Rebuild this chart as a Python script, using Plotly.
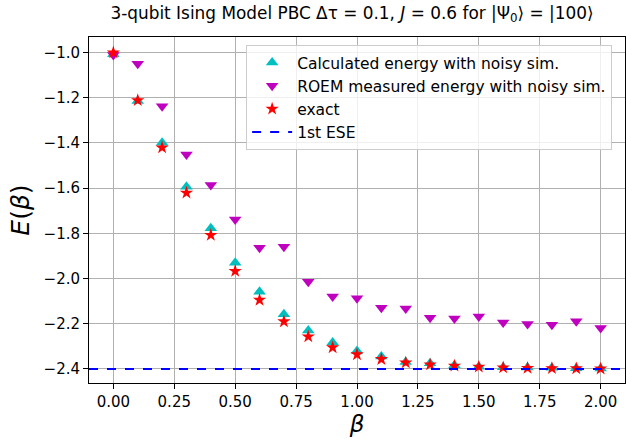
import plotly.graph_objects as go

beta = [0.0, 0.1, 0.2, 0.3, 0.4, 0.5, 0.6, 0.7, 0.8, 0.9, 1.0,
        1.1, 1.2, 1.3, 1.4, 1.5, 1.6, 1.7, 1.8, 1.9, 2.0]
calc_energy = [-1.008, -1.215, -1.400, -1.594, -1.778, -1.930, -2.058, -2.158, -2.230, -2.283, -2.320,
               -2.345, -2.369, -2.375, -2.383, -2.390, -2.392, -2.394, -2.395, -2.397, -2.398]
roem_energy = [-1.012, -1.050, -1.238, -1.452, -1.587, -1.739, -1.864, -1.860, -2.014, -2.080, -2.087,
               -2.129, -2.133, -2.174, -2.177, -2.168, -2.195, -2.201, -2.204, -2.189, -2.219]
exact_energy = [-1.001, -1.212, -1.421, -1.621, -1.808, -1.967, -2.095, -2.190, -2.257, -2.305, -2.336,
                -2.357, -2.372, -2.381, -2.386, -2.391, -2.394, -2.396, -2.397, -2.398, -2.399]
ese_value = -2.4

x_range = [-0.1, 2.1]
y_range = [-2.462, -0.932]
x_ticks = [0.0, 0.25, 0.5, 0.75, 1.0, 1.25, 1.5, 1.75, 2.0]
y_ticks = [-2.4, -2.2, -2.0, -1.8, -1.6, -1.4, -1.2, -1.0]

FONT = "DejaVu Sans"

fig = go.Figure()
fig.add_trace(go.Scatter(x=beta, y=calc_energy, mode="markers",
                         name="Calculated energy with noisy sim.",
                         marker=dict(symbol="triangle-up", size=11, color="#00bfbf")))
fig.add_trace(go.Scatter(x=beta, y=roem_energy, mode="markers",
                         name="ROEM measured energy with noisy sim.",
                         marker=dict(symbol="triangle-down", size=11, color="#bf00bf")))
fig.add_trace(go.Scatter(x=beta, y=exact_energy, mode="markers",
                         name="exact",
                         marker=dict(symbol="star", size=10, color="#ff0000")))
fig.add_trace(go.Scatter(x=x_range, y=[ese_value, ese_value], mode="lines",
                         name="1st ESE",
                         line=dict(color="#0000ff", dash="dash", width=2)))

fig.update_layout(
    width=626, height=439,
    margin=dict(l=89, r=1, t=37, b=56),
    paper_bgcolor="white", plot_bgcolor="white",
    font=dict(family=FONT, size=15, color="black"),
    title=dict(text="3-qubit Ising Model PBC Δτ = 0.1, <i>J</i> = 0.6 for |Ψ<sub>0</sub>⟩ = |100⟩",
               x=352 / 626, xanchor="center", xref="container", yref="container",
               y=1 - 7 / 439, yanchor="top",
               font=dict(family=FONT, size=16.9, color="black")),
    legend=dict(x=0.976, xanchor="right", y=0.977, yanchor="top",
                bgcolor="rgba(255,255,255,0.8)", bordercolor="#cccccc", borderwidth=1,
                itemwidth=40,
                font=dict(family=FONT, size=15.5, color="black")),
    showlegend=True,
)
fig.update_xaxes(range=x_range, tickvals=x_ticks, tickformat=".2f",
                 showgrid=True, gridcolor="#b0b0b0", gridwidth=1,
                 showline=True, linecolor="black", linewidth=1, mirror=True,
                 ticks="outside", ticklen=5, tickcolor="black", zeroline=False,
                 tickfont=dict(family=FONT, size=15),
                 title=dict(text="<i>β</i>", font=dict(family=FONT, size=23), standoff=2))
fig.update_yaxes(range=y_range, tickvals=y_ticks, tickformat=".1f",
                 showgrid=True, gridcolor="#b0b0b0", gridwidth=1,
                 showline=True, linecolor="black", linewidth=1, mirror=True,
                 ticks="outside", ticklen=5, tickcolor="black", zeroline=False,
                 tickfont=dict(family=FONT, size=15),
                 title=dict(text="<i>E</i>(<i>β</i>)", font=dict(family=FONT, size=25), standoff=6))

fig.write_html("out.html", config={"displayModeBar": False},
               post_script="document.body.style.margin='0px';")
